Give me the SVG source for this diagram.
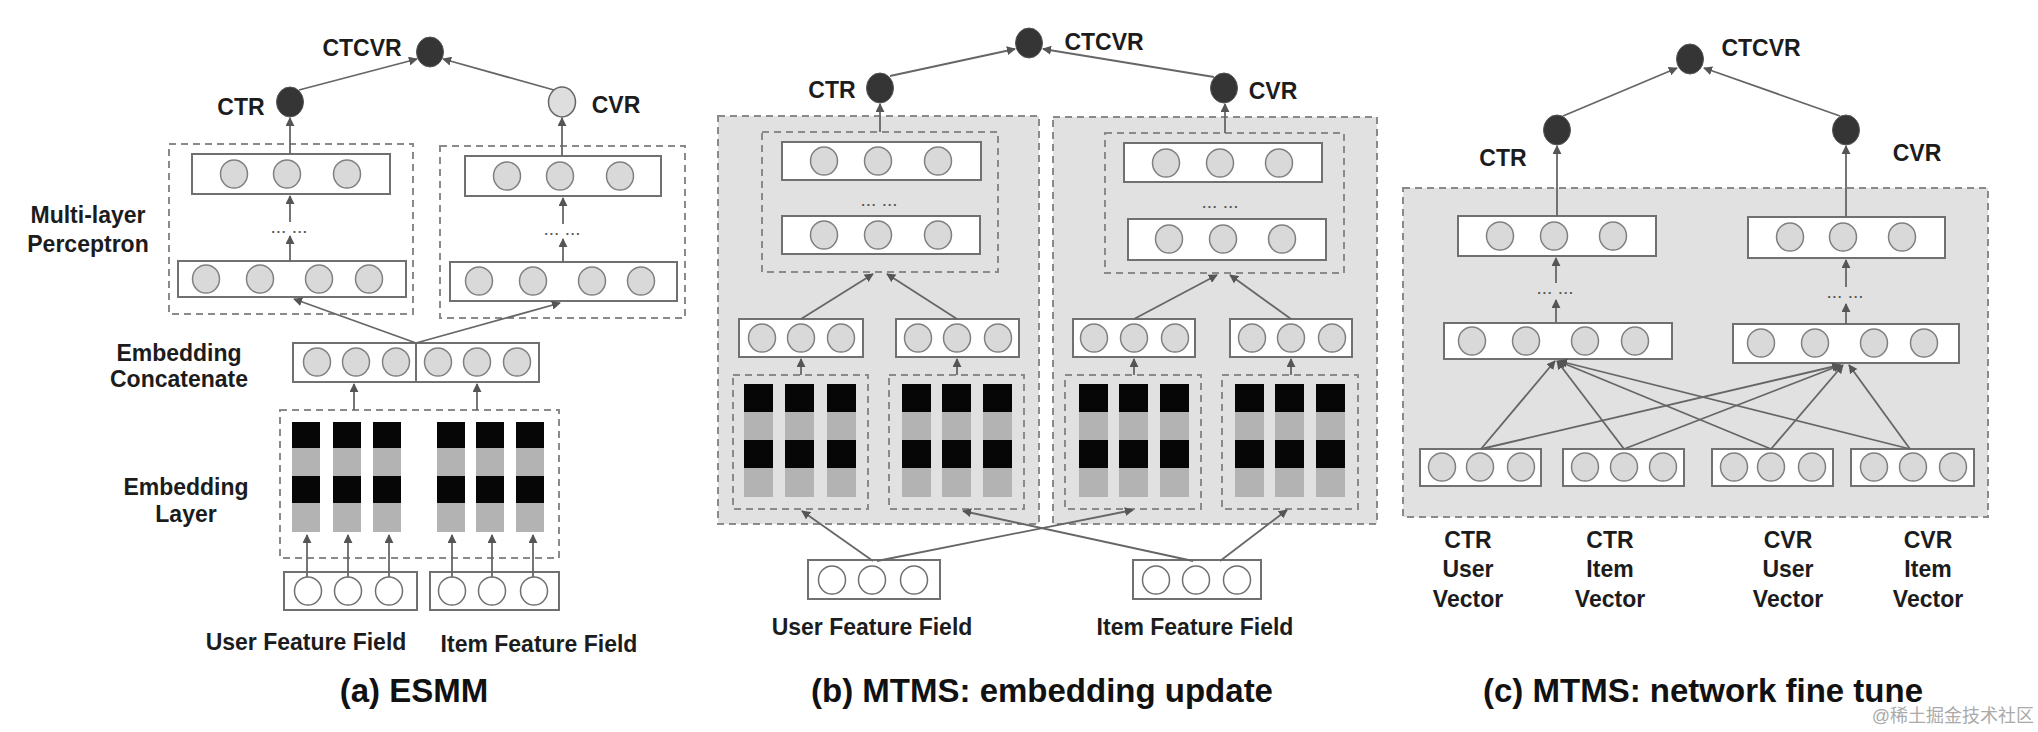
<svg xmlns="http://www.w3.org/2000/svg" width="2038" height="732" viewBox="0 0 2038 732">
<style>
.t{font-family:"Liberation Sans",Arial,sans-serif;font-weight:bold;font-size:23px;fill:#1c1c1c;text-anchor:middle}
.ti{font-family:"Liberation Sans",Arial,sans-serif;font-weight:bold;font-size:33px;fill:#111;text-anchor:middle}
.dots{font-family:"Liberation Sans",Arial,sans-serif;font-size:19px;fill:#555;text-anchor:middle}
.box{fill:#fff;stroke:#707070;stroke-width:2}
.dash{fill:#fff;stroke:#8a8a8a;stroke-width:2;stroke-dasharray:7 5}
.pan{fill:#e1e1e1;stroke:#8a8a8a;stroke-width:2;stroke-dasharray:7 5}
.idash{fill:none;stroke:#8a8a8a;stroke-width:2;stroke-dasharray:7 5}
.c{fill:#d9d9d9;stroke:#808080;stroke-width:1.5}
.w{fill:#fff;stroke:#707070;stroke-width:1.5}
.dk{fill:#353535;stroke:#555;stroke-width:1}
.lt{fill:#dedede;stroke:#666;stroke-width:1.5}
.bk{fill:#060606}
.gr{fill:#b3b3b3}
.a{stroke:#666;stroke-width:1.8;fill:none;marker-end:url(#ah)}
.l{stroke:#666;stroke-width:1.8;fill:none}
.wm{font-family:"Liberation Sans","Noto Sans CJK SC",sans-serif;font-size:18px;fill:#aaa;text-anchor:end}
</style>
<defs>
<marker id="ah" viewBox="0 0 10 10" refX="9" refY="5" markerUnits="userSpaceOnUse" markerWidth="9" markerHeight="9" orient="auto">
<path d="M0,0 L10,5 L0,10 z" fill="#555"/>
</marker>
<g id="bars3a">
<rect class="bk" x="0" y="0" width="28" height="26"/><rect class="gr" x="0" y="26" width="28" height="28"/><rect class="bk" x="0" y="54" width="28" height="27"/><rect class="gr" x="0" y="81" width="28" height="29"/>
</g>
<g id="barsb">
<rect class="bk" x="0" y="0" width="29" height="28"/><rect class="gr" x="0" y="28" width="29" height="28"/><rect class="bk" x="0" y="56" width="29" height="28"/><rect class="gr" x="0" y="84" width="29" height="29"/>
</g>
</defs>
<rect x="0" y="0" width="2038" height="732" fill="#fff"/>

<!-- ================= Panel A ================= -->
<g id="a-mlp-ctr">
<rect class="dash" x="169" y="144" width="244" height="170"/>
<rect class="box" x="192" y="154" width="198" height="40"/>
<ellipse class="c" cx="234" cy="174" rx="13.5" ry="14"/><ellipse class="c" cx="287" cy="174" rx="13.5" ry="14"/><ellipse class="c" cx="347" cy="174" rx="13.5" ry="14"/>
<text class="dots" x="289" y="233">... ...</text>
<rect class="box" x="178" y="261" width="228" height="36"/>
<ellipse class="c" cx="206" cy="279" rx="13.5" ry="14"/><ellipse class="c" cx="260" cy="279" rx="13.5" ry="14"/><ellipse class="c" cx="319" cy="279" rx="13.5" ry="14"/><ellipse class="c" cx="369" cy="279" rx="13.5" ry="14"/>
</g>
<g id="a-mlp-cvr">
<rect class="dash" x="440" y="146" width="245" height="172"/>
<rect class="box" x="465" y="156" width="196" height="40"/>
<ellipse class="c" cx="507" cy="176" rx="13.5" ry="14"/><ellipse class="c" cx="560" cy="176" rx="13.5" ry="14"/><ellipse class="c" cx="620" cy="176" rx="13.5" ry="14"/>
<text class="dots" x="562" y="235">... ...</text>
<rect class="box" x="450" y="262" width="227" height="39"/>
<ellipse class="c" cx="479" cy="281" rx="13.5" ry="14"/><ellipse class="c" cx="533" cy="281" rx="13.5" ry="14"/><ellipse class="c" cx="592" cy="281" rx="13.5" ry="14"/><ellipse class="c" cx="641" cy="281" rx="13.5" ry="14"/>
</g>
<g id="a-concat">
<rect class="box" x="293" y="343" width="246" height="39"/>
<line x1="416" y1="343" x2="416" y2="382" stroke="#707070" stroke-width="2"/>
<ellipse class="c" cx="317" cy="362" rx="13.5" ry="14"/><ellipse class="c" cx="356" cy="362" rx="13.5" ry="14"/><ellipse class="c" cx="396" cy="362" rx="13.5" ry="14"/><ellipse class="c" cx="438" cy="362" rx="13.5" ry="14"/><ellipse class="c" cx="477" cy="362" rx="13.5" ry="14"/><ellipse class="c" cx="517" cy="362" rx="13.5" ry="14"/>
</g>
<g id="a-embedding">
<rect class="dash" x="280" y="410" width="279" height="148"/>
<use href="#bars3a" x="292" y="422"/><use href="#bars3a" x="333" y="422"/><use href="#bars3a" x="373" y="422"/>
<use href="#bars3a" x="437" y="422"/><use href="#bars3a" x="476" y="422"/><use href="#bars3a" x="516" y="422"/>
</g>
<g id="a-user-field">
<rect class="box" x="284" y="572" width="133" height="38"/>
<ellipse class="w" cx="308" cy="591" rx="13.5" ry="14"/><ellipse class="w" cx="348" cy="591" rx="13.5" ry="14"/><ellipse class="w" cx="389" cy="591" rx="13.5" ry="14"/>
</g>
<g id="a-item-field">
<rect class="box" x="430" y="572" width="129" height="38"/>
<ellipse class="w" cx="452" cy="591" rx="13.5" ry="14"/><ellipse class="w" cx="492" cy="591" rx="13.5" ry="14"/><ellipse class="w" cx="534" cy="591" rx="13.5" ry="14"/>
</g>
<g id="a-ctr"><ellipse class="dk" cx="290" cy="102" rx="13.5" ry="15"/></g>
<g id="a-cvr"><ellipse class="lt" cx="562" cy="102" rx="13.5" ry="15"/></g>
<g id="a-ctcvr"><ellipse class="dk" cx="430" cy="52" rx="13.5" ry="15"/></g>

<!-- ================= Panel B ================= -->
<g id="b-panel-ctr">
<rect class="pan" x="718" y="116" width="321" height="408"/>
</g>
<g id="b-panel-cvr">
<rect class="pan" x="1053" y="117" width="324" height="407"/>
</g>
<g id="b-mlp-ctr">
<rect class="idash" x="762" y="132" width="236" height="140"/>
<rect class="box" x="782" y="142" width="199" height="38"/>
<ellipse class="c" cx="824" cy="161" rx="13.5" ry="14"/><ellipse class="c" cx="878" cy="161" rx="13.5" ry="14"/><ellipse class="c" cx="938" cy="161" rx="13.5" ry="14"/>
<text class="dots" x="879" y="206">... ...</text>
<rect class="box" x="782" y="216" width="198" height="38"/>
<ellipse class="c" cx="824" cy="235" rx="13.5" ry="14"/><ellipse class="c" cx="878" cy="235" rx="13.5" ry="14"/><ellipse class="c" cx="938" cy="235" rx="13.5" ry="14"/>
</g>
<g id="b-mlp-cvr">
<rect class="idash" x="1105" y="133" width="239" height="140"/>
<rect class="box" x="1124" y="143" width="198" height="39"/>
<ellipse class="c" cx="1166" cy="163" rx="13.5" ry="14"/><ellipse class="c" cx="1220" cy="163" rx="13.5" ry="14"/><ellipse class="c" cx="1279" cy="163" rx="13.5" ry="14"/>
<text class="dots" x="1220" y="208">... ...</text>
<rect class="box" x="1128" y="219" width="198" height="41"/>
<ellipse class="c" cx="1169" cy="239" rx="13.5" ry="14"/><ellipse class="c" cx="1223" cy="239" rx="13.5" ry="14"/><ellipse class="c" cx="1282" cy="239" rx="13.5" ry="14"/>
</g>
<g id="b-vec-ctr-user">
<rect class="box" x="739" y="319" width="124" height="38"/>
<ellipse class="c" cx="762" cy="338" rx="13.5" ry="14"/><ellipse class="c" cx="801" cy="338" rx="13.5" ry="14"/><ellipse class="c" cx="841" cy="338" rx="13.5" ry="14"/>
</g>
<g id="b-vec-ctr-item">
<rect class="box" x="896" y="319" width="123" height="38"/>
<ellipse class="c" cx="918" cy="338" rx="13.5" ry="14"/><ellipse class="c" cx="957" cy="338" rx="13.5" ry="14"/><ellipse class="c" cx="998" cy="338" rx="13.5" ry="14"/>
</g>
<g id="b-vec-cvr-user">
<rect class="box" x="1073" y="319" width="122" height="38"/>
<ellipse class="c" cx="1094" cy="338" rx="13.5" ry="14"/><ellipse class="c" cx="1134" cy="338" rx="13.5" ry="14"/><ellipse class="c" cx="1175" cy="338" rx="13.5" ry="14"/>
</g>
<g id="b-vec-cvr-item">
<rect class="box" x="1230" y="319" width="122" height="38"/>
<ellipse class="c" cx="1252" cy="338" rx="13.5" ry="14"/><ellipse class="c" cx="1291" cy="338" rx="13.5" ry="14"/><ellipse class="c" cx="1332" cy="338" rx="13.5" ry="14"/>
</g>
<g id="b-emb-1">
<rect class="idash" x="733" y="375" width="135" height="134"/>
<use href="#barsb" x="744" y="384"/><use href="#barsb" x="785" y="384"/><use href="#barsb" x="827" y="384"/>
</g>
<g id="b-emb-2">
<rect class="idash" x="889" y="375" width="135" height="134"/>
<use href="#barsb" x="902" y="384"/><use href="#barsb" x="942" y="384"/><use href="#barsb" x="983" y="384"/>
</g>
<g id="b-emb-3">
<rect class="idash" x="1065" y="375" width="136" height="134"/>
<use href="#barsb" x="1079" y="384"/><use href="#barsb" x="1119" y="384"/><use href="#barsb" x="1160" y="384"/>
</g>
<g id="b-emb-4">
<rect class="idash" x="1222" y="375" width="136" height="134"/>
<use href="#barsb" x="1235" y="384"/><use href="#barsb" x="1275" y="384"/><use href="#barsb" x="1316" y="384"/>
</g>
<g id="b-user-field">
<rect class="box" x="808" y="560" width="132" height="39"/>
<ellipse class="w" cx="832" cy="580" rx="13.5" ry="14"/><ellipse class="w" cx="872" cy="580" rx="13.5" ry="14"/><ellipse class="w" cx="914" cy="580" rx="13.5" ry="14"/>
</g>
<g id="b-item-field">
<rect class="box" x="1133" y="560" width="128" height="39"/>
<ellipse class="w" cx="1156" cy="580" rx="13.5" ry="14"/><ellipse class="w" cx="1196" cy="580" rx="13.5" ry="14"/><ellipse class="w" cx="1237" cy="580" rx="13.5" ry="14"/>
</g>
<g id="b-ctr"><ellipse class="dk" cx="880" cy="88" rx="13.5" ry="15"/></g>
<g id="b-cvr"><ellipse class="dk" cx="1224" cy="88" rx="13.5" ry="15"/></g>
<g id="b-ctcvr"><ellipse class="dk" cx="1029" cy="43" rx="13.5" ry="15"/></g>

<!-- ================= Panel C ================= -->
<g id="c-panel">
<rect class="pan" x="1403" y="188" width="585" height="329"/>
</g>
<g id="c-mlp-ctr">
<rect class="box" x="1458" y="216" width="198" height="40"/>
<ellipse class="c" cx="1500" cy="236" rx="13.5" ry="14"/><ellipse class="c" cx="1554" cy="236" rx="13.5" ry="14"/><ellipse class="c" cx="1613" cy="236" rx="13.5" ry="14"/>
<text class="dots" x="1555" y="294">... ...</text>
<rect class="box" x="1444" y="323" width="228" height="36"/>
<ellipse class="c" cx="1472" cy="341" rx="13.5" ry="14"/><ellipse class="c" cx="1526" cy="341" rx="13.5" ry="14"/><ellipse class="c" cx="1585" cy="341" rx="13.5" ry="14"/><ellipse class="c" cx="1635" cy="341" rx="13.5" ry="14"/>
</g>
<g id="c-mlp-cvr">
<rect class="box" x="1748" y="217" width="197" height="41"/>
<ellipse class="c" cx="1790" cy="237" rx="13.5" ry="14"/><ellipse class="c" cx="1843" cy="237" rx="13.5" ry="14"/><ellipse class="c" cx="1902" cy="237" rx="13.5" ry="14"/>
<text class="dots" x="1845" y="298">... ...</text>
<rect class="box" x="1733" y="324" width="226" height="39"/>
<ellipse class="c" cx="1761" cy="343" rx="13.5" ry="14"/><ellipse class="c" cx="1815" cy="343" rx="13.5" ry="14"/><ellipse class="c" cx="1874" cy="343" rx="13.5" ry="14"/><ellipse class="c" cx="1924" cy="343" rx="13.5" ry="14"/>
</g>
<g id="c-vec-ctr-user">
<rect class="box" x="1420" y="449" width="121" height="37"/>
<ellipse class="c" cx="1442" cy="467" rx="13.5" ry="14"/><ellipse class="c" cx="1480" cy="467" rx="13.5" ry="14"/><ellipse class="c" cx="1521" cy="467" rx="13.5" ry="14"/>
</g>
<g id="c-vec-ctr-item">
<rect class="box" x="1563" y="449" width="121" height="37"/>
<ellipse class="c" cx="1585" cy="467" rx="13.5" ry="14"/><ellipse class="c" cx="1624" cy="467" rx="13.5" ry="14"/><ellipse class="c" cx="1663" cy="467" rx="13.5" ry="14"/>
</g>
<g id="c-vec-cvr-user">
<rect class="box" x="1712" y="449" width="121" height="37"/>
<ellipse class="c" cx="1734" cy="467" rx="13.5" ry="14"/><ellipse class="c" cx="1771" cy="467" rx="13.5" ry="14"/><ellipse class="c" cx="1812" cy="467" rx="13.5" ry="14"/>
</g>
<g id="c-vec-cvr-item">
<rect class="box" x="1851" y="449" width="123" height="37"/>
<ellipse class="c" cx="1874" cy="467" rx="13.5" ry="14"/><ellipse class="c" cx="1913" cy="467" rx="13.5" ry="14"/><ellipse class="c" cx="1953" cy="467" rx="13.5" ry="14"/>
</g>
<g id="c-ctr"><ellipse class="dk" cx="1557" cy="130" rx="13.5" ry="15"/></g>
<g id="c-cvr"><ellipse class="dk" cx="1846" cy="130" rx="13.5" ry="15"/></g>
<g id="c-ctcvr"><ellipse class="dk" cx="1690" cy="59" rx="13.5" ry="15"/></g>

<!-- ================= Connectors ================= -->
<g id="connectors">
<!-- A -->
<line class="a" x1="299" y1="90" x2="417" y2="59"/>
<line class="a" x1="554" y1="90" x2="443" y2="59"/>
<line class="a" x1="290" y1="154" x2="290" y2="118"/>
<line class="a" x1="562" y1="156" x2="562" y2="118"/>
<line class="a" x1="290" y1="261" x2="290" y2="236"/>
<line class="a" x1="290" y1="222" x2="290" y2="196"/>
<line class="a" x1="563" y1="262" x2="563" y2="239"/>
<line class="a" x1="563" y1="224" x2="563" y2="198"/>
<line class="a" x1="416" y1="343" x2="294" y2="299"/>
<line class="a" x1="416" y1="343" x2="560" y2="303"/>
<line class="a" x1="354" y1="410" x2="354" y2="384"/>
<line class="a" x1="477" y1="410" x2="477" y2="384"/>
<line class="a" x1="307" y1="577" x2="307" y2="535"/>
<line class="a" x1="348" y1="577" x2="348" y2="535"/>
<line class="a" x1="389" y1="577" x2="389" y2="535"/>
<line class="a" x1="452" y1="577" x2="452" y2="535"/>
<line class="a" x1="492" y1="577" x2="492" y2="535"/>
<line class="a" x1="533" y1="577" x2="533" y2="535"/>
<!-- B -->
<line class="a" x1="890" y1="76" x2="1015" y2="49"/>
<line class="a" x1="1214" y1="77" x2="1043" y2="49"/>
<line class="a" x1="880" y1="132" x2="880" y2="104"/>
<line class="a" x1="1225" y1="133" x2="1225" y2="104"/>
<line class="a" x1="801" y1="319" x2="873" y2="274"/>
<line class="a" x1="957" y1="319" x2="887" y2="274"/>
<line class="a" x1="1134" y1="319" x2="1217" y2="275"/>
<line class="a" x1="1291" y1="319" x2="1230" y2="275"/>
<line class="a" x1="801" y1="375" x2="801" y2="359"/>
<line class="a" x1="957" y1="375" x2="957" y2="359"/>
<line class="a" x1="1134" y1="375" x2="1134" y2="359"/>
<line class="a" x1="1291" y1="375" x2="1291" y2="359"/>
<line class="a" x1="873" y1="561" x2="802" y2="511"/>
<line class="a" x1="877" y1="561" x2="1133" y2="510"/>
<line class="a" x1="1193" y1="561" x2="963" y2="511"/>
<line class="a" x1="1220" y1="561" x2="1287" y2="510"/>
<!-- C -->
<line class="a" x1="1563" y1="116" x2="1677" y2="68"/>
<line class="a" x1="1840" y1="116" x2="1704" y2="68"/>
<line class="a" x1="1557" y1="216" x2="1557" y2="146"/>
<line class="a" x1="1846" y1="217" x2="1846" y2="146"/>
<line class="a" x1="1556" y1="323" x2="1556" y2="300"/>
<line class="a" x1="1556" y1="283" x2="1556" y2="258"/>
<line class="a" x1="1846" y1="324" x2="1846" y2="304"/>
<line class="a" x1="1846" y1="287" x2="1846" y2="260"/>
<line class="a" x1="1481" y1="449" x2="1555" y2="361"/>
<line class="a" x1="1481" y1="449" x2="1840" y2="365"/>
<line class="a" x1="1624" y1="449" x2="1557" y2="361"/>
<line class="a" x1="1624" y1="449" x2="1841" y2="365"/>
<line class="a" x1="1771" y1="449" x2="1558" y2="361"/>
<line class="a" x1="1771" y1="449" x2="1843" y2="365"/>
<line class="a" x1="1910" y1="449" x2="1559" y2="361"/>
<line class="a" x1="1910" y1="449" x2="1849" y2="365"/>
</g>

<!-- ================= Labels ================= -->
<g id="labels">
<text class="t" x="362" y="56">CTCVR</text>
<text class="t" x="241" y="115">CTR</text>
<text class="t" x="616" y="113">CVR</text>
<text class="t" x="88" y="223">Multi-layer</text>
<text class="t" x="88" y="252">Perceptron</text>
<text class="t" x="179" y="361">Embedding</text>
<text class="t" x="179" y="387">Concatenate</text>
<text class="t" x="186" y="495">Embedding</text>
<text class="t" x="186" y="522">Layer</text>
<text class="t" x="306" y="650">User  Feature Field</text>
<text class="t" x="539" y="652">Item Feature  Field</text>
<text class="ti" x="414" y="702">(a) ESMM</text>

<text class="t" x="1104" y="50">CTCVR</text>
<text class="t" x="832" y="98">CTR</text>
<text class="t" x="1273" y="99">CVR</text>
<text class="t" x="872" y="635">User  Feature Field</text>
<text class="t" x="1195" y="635">Item Feature  Field</text>
<text class="ti" x="1042" y="702">(b) MTMS: embedding update</text>

<text class="t" x="1761" y="56">CTCVR</text>
<text class="t" x="1503" y="166">CTR</text>
<text class="t" x="1917" y="161">CVR</text>
<text class="t" x="1468" y="548">CTR</text><text class="t" x="1468" y="577">User</text><text class="t" x="1468" y="607">Vector</text>
<text class="t" x="1610" y="548">CTR</text><text class="t" x="1610" y="577">Item</text><text class="t" x="1610" y="607">Vector</text>
<text class="t" x="1788" y="548">CVR</text><text class="t" x="1788" y="577">User</text><text class="t" x="1788" y="607">Vector</text>
<text class="t" x="1928" y="548">CVR</text><text class="t" x="1928" y="577">Item</text><text class="t" x="1928" y="607">Vector</text>
<text class="ti" x="1703" y="702">(c) MTMS: network fine tune</text>
<text class="wm" x="2034" y="722">@稀土掘金技术社区</text>
</g>
</svg>
